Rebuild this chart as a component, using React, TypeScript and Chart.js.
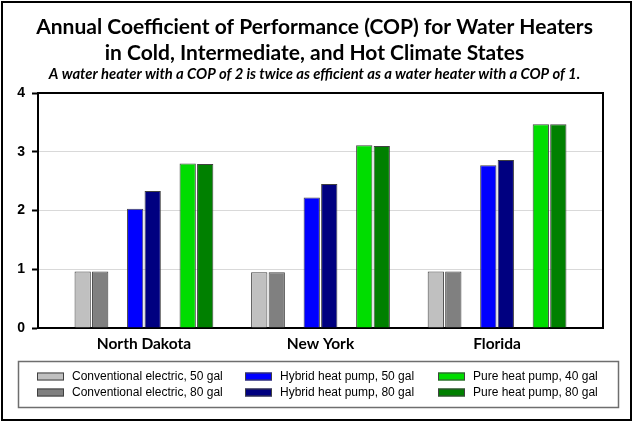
import { useEffect, useRef } from "react";
import Chart from "chart.js/auto";

// states on the x axis
const states = ["North Dakota", "New York", "Florida"];

// annual COP
const conventional50 = [0.96, 0.95, 0.96];
const conventional80 = [0.96, 0.95, 0.96];
const hybrid50 = [2.03, 2.22, 2.77];
const hybrid80 = [2.33, 2.45, 2.86];
const pure40 = [2.8, 3.11, 3.47];
const pure80 = [2.79, 3.1, 3.47];

const yTicks = [0, 1, 2, 3, 4];

const titleLines = [
  "Annual Coefficient of Performance (COP) for Water Heaters",
  "in Cold, Intermediate, and Hot Climate States",
];
const subtitleText =
  "A water heater with a COP of 2 is twice as efficient as a water heater with a COP of 1.";

const BAR_EDGE = "#404040";

const points = (values: number[]) => states.map((_, i) => ({ x: i, y: values[i] }));

const series = (label: string, values: number[], color: string) => ({
  label,
  data: points(values),
  backgroundColor: color,
  borderColor: BAR_EDGE,
  borderWidth: 1,
});

// empty dataset that only holds a slot between the pairs of bars
const spacer = () => ({ label: "", data: [], backgroundColor: "transparent", borderWidth: 0 });

// legend grid: column x of the swatch, row centre y
const legendCols = [37, 245, 438];
const legendRows = [376.5, 392.5];

const boxLegend = {
  id: "boxLegend",
  afterDraw(chart: any) {
    const { ctx } = chart;
    ctx.save();
    ctx.strokeStyle = "#6e6e6e";
    ctx.lineWidth = 1.5;
    ctx.strokeRect(18.5, 361.5, 600, 46);
    const items = chart.data.datasets.filter((d: any) => d.label);
    ctx.font = '12px "Liberation Sans", Arial, sans-serif';
    ctx.textBaseline = "middle";
    items.forEach((ds: any, i: number) => {
      const x = legendCols[Math.floor(i / 2)];
      const y = legendRows[i % 2];
      ctx.fillStyle = ds.backgroundColor;
      ctx.fillRect(x, y - 4, 27, 8);
      ctx.strokeStyle = BAR_EDGE;
      ctx.lineWidth = 1;
      ctx.strokeRect(x + 0.5, y - 3.5, 26, 7);
      ctx.fillStyle = "#000";
      ctx.fillText(ds.label, x + 35, y + 0.5);
    });
    ctx.restore();
  },
};

const frame = {
  id: "frame",
  afterDatasetsDraw(chart: any) {
    const { ctx, chartArea: a } = chart;
    ctx.save();
    ctx.strokeStyle = "#000";
    ctx.lineWidth = 2;
    ctx.beginPath();
    ctx.moveTo(a.left, a.top);
    ctx.lineTo(a.right, a.top);
    ctx.lineTo(a.right, a.bottom);
    ctx.stroke();
    ctx.restore();
  },
  afterDraw(chart: any) {
    const { ctx } = chart;
    ctx.save();
    ctx.strokeStyle = "#000";
    ctx.lineWidth = 2;
    ctx.strokeRect(2, 2, 629, 418);
    ctx.restore();
  },
};

export default function App() {
  const canvasRef = useRef<HTMLCanvasElement | null>(null);

  useEffect(() => {
    if (!canvasRef.current) return;
    const chart = new Chart(canvasRef.current, {
      type: "bar",
      data: {
        datasets: [
          series("Conventional electric, 50 gal", conventional50, "#c0c0c0"),
          series("Conventional electric, 80 gal", conventional80, "#808080"),
          spacer(),
          series("Hybrid heat pump, 50 gal", hybrid50, "#0000ff"),
          series("Hybrid heat pump, 80 gal", hybrid80, "#000080"),
          spacer(),
          series("Pure heat pump, 40 gal", pure40, "#00dd00"),
          series("Pure heat pump, 80 gal", pure80, "#008000"),
        ] as any,
      },
      options: {
        responsive: true,
        maintainAspectRatio: false,
        animation: false,
        events: [],
        categoryPercentage: 0.793,
        barPercentage: 0.93,
        layout: { padding: { left: 0, right: 5, top: 0, bottom: 68 } },
        plugins: {
          legend: { display: false },
          tooltip: { enabled: false },
          title: {
            display: true,
            text: titleLines,
            color: "#000",
            font: { family: "Lato", weight: "bold", size: 21, lineHeight: "26px" },
            padding: { top: 14, bottom: 0 },
          },
          subtitle: {
            display: true,
            text: subtitleText,
            color: "#000",
            font: { family: "Lato", weight: "bold", style: "italic", size: 14.8, lineHeight: "16px" },
            padding: { top: 0, bottom: 11 },
          },
        },
        scales: {
          x: {
            type: "linear",
            min: -0.6,
            max: 2.6,
            offset: false,
            z: 1,
            grid: { display: false, drawTicks: false, offset: false },
            border: { color: "#000", width: 2 },
            afterBuildTicks: (axis: any) => {
              axis.ticks = states.map((_, i) => ({ value: i }));
            },
            afterFit: (axis: any) => {
              axis.height = 29;
            },
            ticks: {
              color: "#000",
              padding: 7,
              autoSkip: false,
              maxRotation: 0,
              font: { family: "Lato", weight: "bold", size: 15.5 },
              callback: (v: any) => states[v] ?? "",
            },
          },
          y: {
            min: yTicks[0],
            max: yTicks[yTicks.length - 1],
            afterBuildTicks: (axis: any) => {
              axis.ticks = yTicks.map((v) => ({ value: v }));
            },
            afterFit: (axis: any) => {
              axis.width = 38;
            },
            grid: {
              color: "#d9d9d9",
              lineWidth: 1,
              tickColor: "#000",
              tickWidth: 2,
              tickLength: 6,
            },
            border: { color: "#000", width: 2 },
            ticks: {
              color: "#000",
              padding: 7,
              font: { family: '"Liberation Sans", Arial', weight: "bold", size: 14 },
            },
          },
          // blank right-hand axis, only keeps the plot clear of the right edge
          yRight: {
            position: "right",
            min: yTicks[0],
            max: yTicks[yTicks.length - 1],
            grid: { display: false, drawTicks: false },
            border: { display: false },
            ticks: { display: false },
            afterFit: (axis: any) => {
              axis.width = 26;
            },
          },
        },
      } as any,
      plugins: [boxLegend, frame],
    });

    document.fonts
      .load('bold 21px "Lato"')
      .then(() => document.fonts.load('italic bold 15px "Lato"'))
      .then(() => chart.update())
      .catch(() => {});

    return () => {
      chart.destroy();
    };
  }, []);

  return (
    <div style={{ position: "absolute", left: 0, top: 0, width: 634, height: 425, background: "#fff" }}>
      <canvas ref={canvasRef} />
    </div>
  );
}
